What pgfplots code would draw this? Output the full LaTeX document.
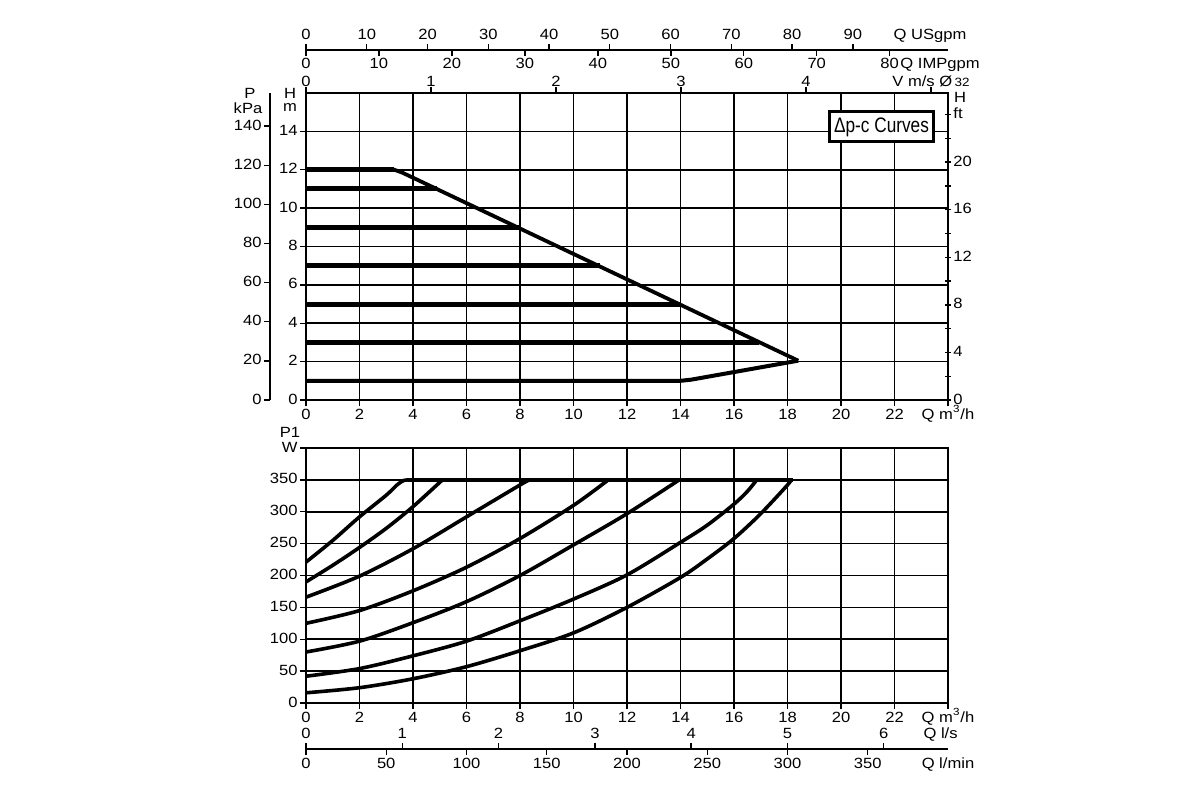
\documentclass[border=0pt]{standalone}
\usepackage{pgfplots}
\pgfplotsset{compat=1.18}
\usepackage{fontspec}
\setmainfont{Liberation Sans}[FakeStretch=1.12]
\newfontfamily\narrowfont[FakeStretch=0.82]{Liberation Sans}
\begin{document}
\begin{tikzpicture}[font=\fontsize{7.4}{8.5}\selectfont]
\useasboundingbox (0,0) rectangle (600pt,400pt);
\pgfplotsset{
  every axis/.append style={scale only axis,
    /pgf/number format/assume math mode=true,
    tick style={black, line width=0.7pt},
    axis line style={black, line width=0.8pt},
    ticklabel style={font=\fontsize{7.4}{8.5}\selectfont, inner sep=1pt, text height=5.3pt, text depth=1.3pt},
    major tick length=3pt, tick align=outside},
  every axis plot/.append style={black, no markers},
}
% ---------------- top chart: H (m) vs Q
\begin{axis}[at={(153pt,200pt)}, anchor=south west, width=321pt, height=153.5pt,
  xmin=0, xmax=24, ymin=0, ymax=16,
  xtick={0,2,...,24}, xticklabels={0,2,4,6,8,10,12,14,16,18,20,22,{Q m\textsuperscript{3}/h}},
  ytick={0,2,...,14}, tick pos=left,
  grid=major, grid style={black, line width=0.8pt}]
\addplot[line width=2.5pt] coordinates {(0,12)(3.3,12)};
\addplot[line width=1.9pt, line join=round] coordinates {(3.0,12)(3.3,12)(3.6,11.85)(18.4,2.05)};
\addplot[line width=2.5pt] coordinates {(0,11)(4.9,11)};
\addplot[line width=2.5pt] coordinates {(0,9)(8.0,9)};
\addplot[line width=2.5pt] coordinates {(0,7)(11.0,7)};
\addplot[line width=2.5pt] coordinates {(0,5)(14.0,5)};
\addplot[line width=2.5pt] coordinates {(0,3)(16.95,3)};
\addplot[line width=2pt, line join=round] coordinates {(0,1)(14,1)(14.4,1.06)(18.4,2.05)};
\end{axis}
% kPa axis
\begin{axis}[at={(135pt,200pt)}, anchor=south west, width=5pt, height=153.5pt,
  xmin=0, xmax=1, ymin=0, ymax=156.96, hide x axis, axis y line*=left,
  ytick={0,20,...,140}]
\addplot[draw=none] coordinates {(0,0)};
\end{axis}
% ft axis
\begin{axis}[at={(153pt,200pt)}, anchor=south west, width=321pt, height=153.5pt,
  xmin=0, xmax=1, ymin=0, ymax=25.8, hide x axis, axis y line*=right,
  ytick={0,2,...,24}, yticklabels={0,,4,,8,,12,,16,,20,,ft}, tick align=center]
\addplot[draw=none] coordinates {(0,0)};
\end{axis}
% V m/s axis
\begin{axis}[at={(153pt,200pt)}, anchor=south west, width=321pt, height=153.5pt,
  xmin=0, xmax=5.136, ymin=0, ymax=1, hide y axis, axis x line*=top,
  xticklabel style={yshift=-2pt},
  xtick={0,1,...,5}, xticklabels={0,1,2,3,4,{V m/s Ø\,{\fontsize{6}{7}\selectfont 32}}}]
\addplot[draw=none] coordinates {(0,0)};
\end{axis}
% USgpm axis
\begin{axis}[at={(153pt,375pt)}, anchor=north west, width=321pt, height=1pt,
  xmin=0, xmax=105.67, ymin=0, ymax=1, hide y axis, axis x line*=top,
  xtick={0,10,...,90},
  extra x ticks={102.7}, extra x tick labels={Q USgpm}, extra x tick style={major tick style={draw=none}}]
\addplot[draw=none] coordinates {(0,0)};
\end{axis}
% IMPgpm axis
\begin{axis}[at={(153pt,375pt)}, anchor=south west, width=321pt, height=1pt,
  xmin=0, xmax=87.99, ymin=0, ymax=1, hide y axis, axis x line*=bottom,
  xtick={0,10,...,80},
  extra x ticks={86.9}, extra x tick labels={Q IMPgpm}, extra x tick style={major tick style={draw=none}}]
\addplot[draw=none] coordinates {(0,0)};
\end{axis}
% ---------------- bottom chart: P1 (W) vs Q
\begin{axis}[at={(153pt,48.5pt)}, anchor=south west, width=321pt, height=127.5pt,
  xmin=0, xmax=24, ymin=0, ymax=400,
  xtick={0,2,...,24}, xticklabels={0,2,4,6,8,10,12,14,16,18,20,22,{Q m\textsuperscript{3}/h}},
  ytick={0,50,...,400}, yticklabels={0,50,100,150,200,250,300,350,W}, tick pos=left,
  grid=major, grid style={black, line width=0.8pt}]
\addplot[line width=1.8pt, smooth] coordinates {(0,221)(1,255)(2,292)(3,326)(3.4,342)(3.65,349)(3.9,350)};
\addplot[line width=1.8pt, smooth] coordinates {(0,190)(1,216)(2,244)(3,274)(4,308)(5.1,350)};
\addplot[line width=1.8pt, smooth] coordinates {(0,166)(2,199)(4,242)(6,292)(8,342)(8.35,350)};
\addplot[line width=1.8pt, smooth] coordinates {(0,125)(2,145)(4,176)(6,213)(8,258)(10,310)(11.3,350)};
\addplot[line width=1.8pt, smooth] coordinates {(0,80)(2,97)(4,126)(6,159)(8,200)(10,248)(12,297)(13.95,350)};
\addplot[line width=1.8pt, smooth] coordinates {(0,42)(2,54)(4,74)(6,97)(8,129)(10,163)(12,201)(14,252)(15,279)(16,312)(16.5,332)(16.85,350)};
\addplot[line width=1.8pt, smooth] coordinates {(0,16)(2,24)(4,38)(6,57)(8,82)(10,110)(12,150)(14,197)(15,226)(16,258)(17,297)(18,342)(18.12,350)};
\addplot[line width=2.2pt] coordinates {(3.8,350)(18.2,350)};
\end{axis}
% l/s axis
\begin{axis}[at={(153pt,25.5pt)}, anchor=north west, width=321pt, height=1pt,
  xmin=0, xmax=6.667, ymin=0, ymax=1, hide y axis, axis x line*=top,
  xtick={0,1,...,6},
  extra x ticks={6.59}, extra x tick labels={Q l/s}, extra x tick style={major tick style={draw=none}}]
\addplot[draw=none] coordinates {(0,0)};
\end{axis}
% l/min axis
\begin{axis}[at={(153pt,25.5pt)}, anchor=south west, width=321pt, height=1pt,
  xmin=0, xmax=400, ymin=0, ymax=1, hide y axis, axis x line*=bottom,
  xtick={0,50,...,350},
  extra x ticks={400}, extra x tick labels={Q l/min}, extra x tick style={major tick style={draw=none}}]
\addplot[draw=none] coordinates {(0,0)};
\end{axis}
% axis titles
\node at (125pt,353.5pt) {P};
\node at (124pt,346pt) {kPa};
\node at (145pt,353.5pt) {H};
\node at (145pt,346pt) {m};
\node at (480pt,351.5pt) {H};
\node at (145pt,184pt) {P1};
\node[draw, line width=1.5pt, fill=white, inner sep=2pt, minimum width=52pt, minimum height=15pt,
  font=\narrowfont\fontsize{10.5}{12}\selectfont] at (440.75pt,336.5pt) {Δp-c Curves};
\end{tikzpicture}
\end{document}
